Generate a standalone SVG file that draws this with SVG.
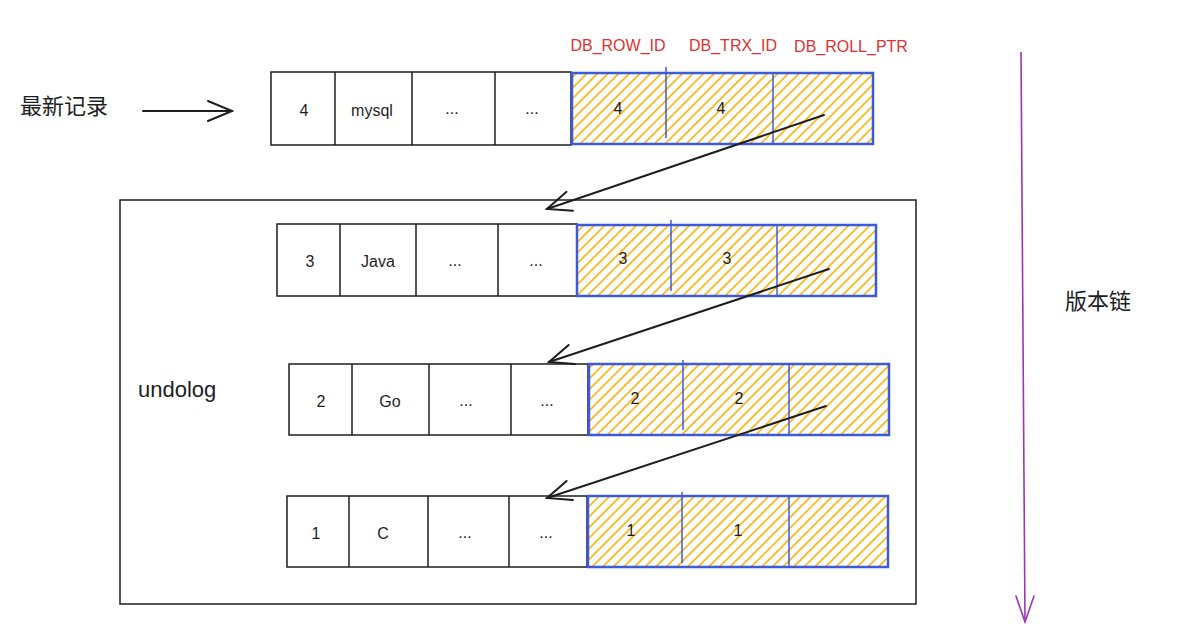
<svg xmlns="http://www.w3.org/2000/svg" width="1178" height="641" viewBox="0 0 1178 641">
<defs>
<pattern id="hatch" patternUnits="userSpaceOnUse" width="7.5" height="7.5" patternTransform="rotate(45)">
<line x1="2" y1="0" x2="2" y2="7.5" stroke="#fab005" stroke-width="1.6"/>
</pattern>
<marker id="ah" viewBox="0 0 28 24" refX="26" refY="12" markerWidth="28" markerHeight="24" markerUnits="userSpaceOnUse" orient="auto">
<path d="M2,2 L26,12 L2,22" fill="none" stroke="#1e1e1e" stroke-width="2" stroke-linecap="round"/>
</marker>
<marker id="ahp" viewBox="0 0 20 30" refX="10" refY="28" markerWidth="20" markerHeight="30" markerUnits="userSpaceOnUse" orient="0">
<path d="M1,2 L10,28 L19,2" fill="none" stroke="#9c36b5" stroke-width="1.6" stroke-linecap="round"/>
</marker>
</defs>
<style>
.cell{fill:#fff;stroke:#1e1e1e;stroke-width:1.5}
.hid{fill:url(#hatch);stroke:#3b5bdb;stroke-width:2.5}
.div{stroke:#1e1e1e;stroke-width:1.5}
.bdiv{stroke:#3b5bdb;stroke-width:1.5}
.t{font-family:"Liberation Sans","Noto Sans CJK SC",sans-serif;font-size:16px;fill:#1e1e1e;text-anchor:middle;dominant-baseline:central}
.lab{font-family:"Liberation Sans",sans-serif;font-size:16px;fill:#e03131;text-anchor:middle;dominant-baseline:central}
.big{font-family:"Liberation Sans","Noto Sans CJK SC",sans-serif;font-size:22px;fill:#1e1e1e;dominant-baseline:central}
.conn{stroke:#1e1e1e;stroke-width:2;fill:none;stroke-linecap:round}
</style>
<rect width="1178" height="641" fill="#fff"/>

<g id="undolog-box">
<rect x="120" y="200" width="796" height="404" fill="none" stroke="#1e1e1e" stroke-width="1.5"/>
<text class="big" x="138" y="389">undolog</text>
</g>

<g id="labels">
<text class="lab" x="618" y="45">DB_ROW_ID</text>
<text class="lab" x="733" y="45">DB_TRX_ID</text>
<text class="lab" x="851" y="46">DB_ROLL_PTR</text>
<text class="big" x="20" y="106">最新记录</text>
<text class="big" x="1065" y="301">版本链</text>
</g>

<g id="row4">
<rect class="cell" x="271" y="72" width="300" height="73"/>
<line class="div" x1="335" y1="72" x2="335" y2="145"/>
<line class="div" x1="412" y1="72" x2="412" y2="145"/>
<line class="div" x1="495" y1="72" x2="495" y2="145"/>
<rect class="hid" x="572" y="73" width="301" height="71"/>
<line class="bdiv" x1="666" y1="67" x2="666" y2="138"/>
<line class="bdiv" x1="773" y1="73" x2="773" y2="144"/>
<text class="t" x="304" y="110">4</text>
<text class="t" x="372" y="110">mysql</text>
<text class="t" x="452" y="108">...</text>
<text class="t" x="532" y="108">...</text>
<text class="t" x="618" y="108">4</text>
<text class="t" x="721" y="108">4</text>
</g>

<g id="row3">
<rect class="cell" x="277" y="224" width="300" height="72"/>
<line class="div" x1="340" y1="224" x2="340" y2="296"/>
<line class="div" x1="416" y1="224" x2="416" y2="296"/>
<line class="div" x1="498" y1="224" x2="498" y2="296"/>
<rect class="hid" x="577" y="225" width="299" height="71"/>
<line class="bdiv" x1="671" y1="220" x2="671" y2="291"/>
<line class="bdiv" x1="777" y1="225" x2="777" y2="296"/>
<text class="t" x="310" y="261">3</text>
<text class="t" x="378" y="261">Java</text>
<text class="t" x="455" y="260">...</text>
<text class="t" x="536" y="260">...</text>
<text class="t" x="623" y="258">3</text>
<text class="t" x="727" y="258">3</text>
</g>

<g id="row2">
<rect class="cell" x="289" y="364" width="299" height="71"/>
<line class="div" x1="352" y1="364" x2="352" y2="435"/>
<line class="div" x1="429" y1="364" x2="429" y2="435"/>
<line class="div" x1="511" y1="364" x2="511" y2="435"/>
<rect class="hid" x="589" y="364" width="300" height="71"/>
<line class="bdiv" x1="683" y1="360" x2="683" y2="430"/>
<line class="bdiv" x1="789" y1="364" x2="789" y2="435"/>
<text class="t" x="321" y="401">2</text>
<text class="t" x="390" y="401">Go</text>
<text class="t" x="466" y="400">...</text>
<text class="t" x="547" y="400">...</text>
<text class="t" x="635" y="398">2</text>
<text class="t" x="739" y="398">2</text>
</g>

<g id="row1">
<rect class="cell" x="287" y="496" width="300" height="71"/>
<line class="div" x1="349" y1="496" x2="349" y2="567"/>
<line class="div" x1="428" y1="496" x2="428" y2="567"/>
<line class="div" x1="509" y1="496" x2="509" y2="567"/>
<rect class="hid" x="588" y="496" width="300" height="71"/>
<line class="bdiv" x1="682" y1="492" x2="682" y2="563"/>
<line class="bdiv" x1="789" y1="496" x2="789" y2="567"/>
<text class="t" x="316" y="533">1</text>
<text class="t" x="383" y="533">C</text>
<text class="t" x="465" y="532">...</text>
<text class="t" x="546" y="532">...</text>
<text class="t" x="631" y="530">1</text>
<text class="t" x="738" y="530">1</text>
</g>

<g id="connectors">
<line class="conn" x1="143" y1="111" x2="232" y2="111" marker-end="url(#ah)"/>
<line class="conn" x1="824" y1="115" x2="547" y2="209" marker-end="url(#ah)"/>
<line class="conn" x1="829" y1="269" x2="549" y2="362" marker-end="url(#ah)"/>
<line class="conn" x1="826" y1="406" x2="547" y2="498" marker-end="url(#ah)"/>
<line x1="1021" y1="52" x2="1025" y2="622" stroke="#9c36b5" stroke-width="1.6" marker-end="url(#ahp)"/>
</g>
</svg>
